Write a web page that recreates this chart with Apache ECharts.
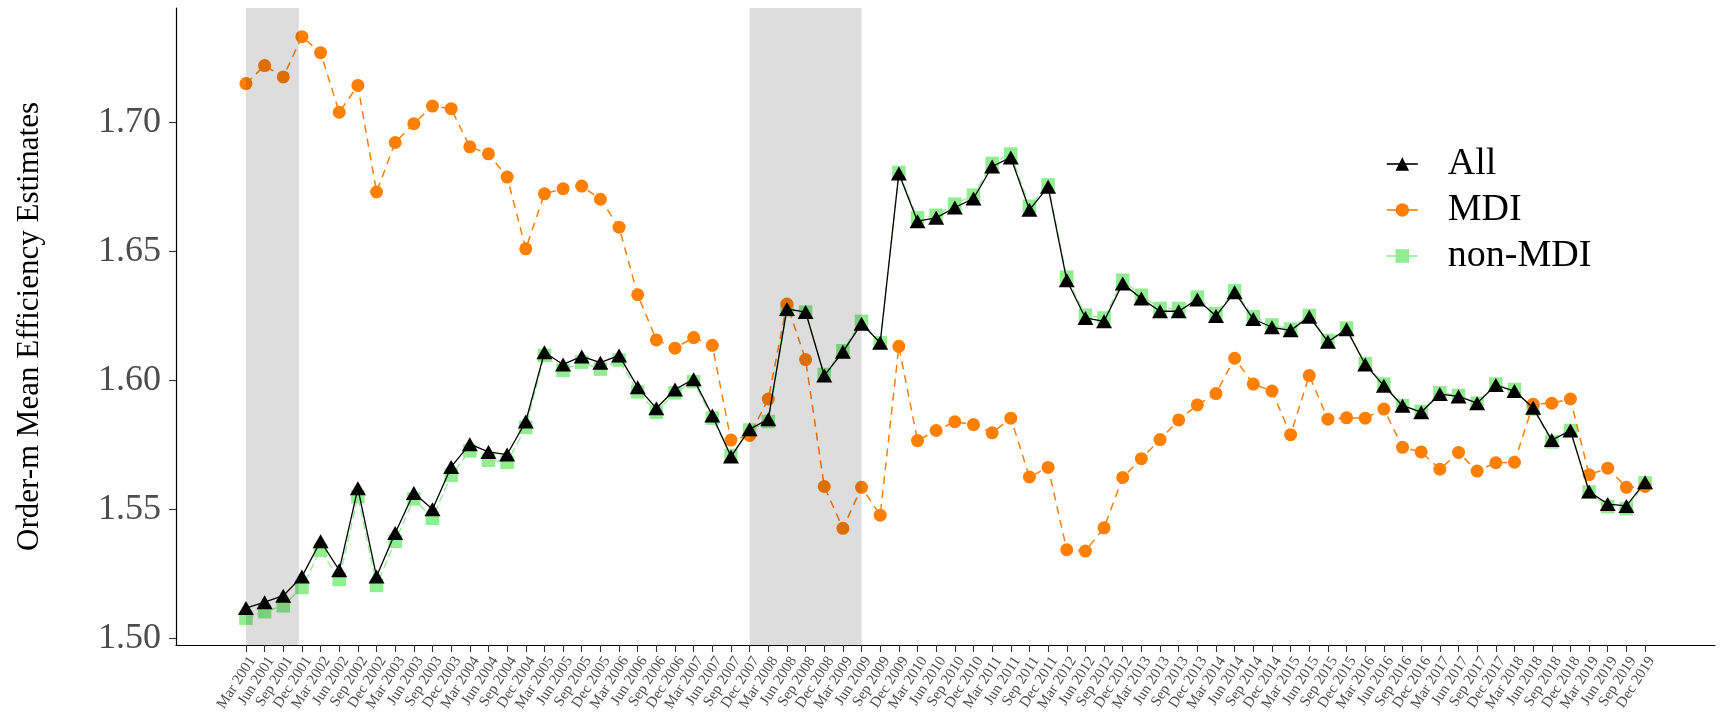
<!DOCTYPE html>
<html>
<head>
<meta charset="utf-8">
<title>Order-m Mean Efficiency Estimates</title>
<script src="https://cdn.jsdelivr.net/npm/echarts@6/dist/echarts.min.js"></script>
<style>
  html, body { margin: 0; padding: 0; background: #fff; }
  #chart { width: 1724px; height: 716px; }
</style>
</head>
<body>
<div id="chart"></div>
<script>
// Quarterly tick labels, Mar 2001 – Dec 2019
const quarterLabels = [
  'Mar 2001','Jun 2001','Sep 2001','Dec 2001','Mar 2002','Jun 2002','Sep 2002','Dec 2002',
  'Mar 2003','Jun 2003','Sep 2003','Dec 2003','Mar 2004','Jun 2004','Sep 2004','Dec 2004',
  'Mar 2005','Jun 2005','Sep 2005','Dec 2005','Mar 2006','Jun 2006','Sep 2006','Dec 2006',
  'Mar 2007','Jun 2007','Sep 2007','Dec 2007','Mar 2008','Jun 2008','Sep 2008','Dec 2008',
  'Mar 2009','Jun 2009','Sep 2009','Dec 2009','Mar 2010','Jun 2010','Sep 2010','Dec 2010',
  'Mar 2011','Jun 2011','Sep 2011','Dec 2011','Mar 2012','Jun 2012','Sep 2012','Dec 2012',
  'Mar 2013','Jun 2013','Sep 2013','Dec 2013','Mar 2014','Jun 2014','Sep 2014','Dec 2014',
  'Mar 2015','Jun 2015','Sep 2015','Dec 2015','Mar 2016','Jun 2016','Sep 2016','Dec 2016',
  'Mar 2017','Jun 2017','Sep 2017','Dec 2017','Mar 2018','Jun 2018','Sep 2018','Dec 2018',
  'Mar 2019','Jun 2019','Sep 2019','Dec 2019'
];

// Order-m mean efficiency, all institutions
const allValues = [
  1.5118, 1.5141, 1.5166, 1.5240, 1.5377, 1.5265, 1.5582, 1.5240,
  1.5409, 1.5564, 1.5501, 1.5665, 1.5753, 1.5723, 1.5713, 1.5841,
  1.6109, 1.6062, 1.6093, 1.6069, 1.6097, 1.5974, 1.5892, 1.5965,
  1.6005, 1.5864, 1.5705, 1.5811, 1.5850, 1.6277, 1.6265, 1.6019,
  1.6111, 1.6220, 1.6146, 1.6802, 1.6617, 1.6630, 1.6670, 1.6705,
  1.6829, 1.6864, 1.6661, 1.6750, 1.6388, 1.6242, 1.6229, 1.6376,
  1.6317, 1.6268, 1.6268, 1.6314, 1.6250, 1.6342, 1.6238, 1.6206,
  1.6194, 1.6247, 1.6150, 1.6198, 1.6062, 1.5979, 1.5902, 1.5877,
  1.5947, 1.5938, 1.5912, 1.5982, 1.5959, 1.5894, 1.5769, 1.5806,
  1.5570, 1.5521, 1.5514, 1.5606
];

// Minority depository institutions
const mdiValues = [
  1.7150, 1.7220, 1.7176, 1.7332, 1.7270, 1.7039, 1.7143, 1.6730,
  1.6922, 1.6995, 1.7063, 1.7053, 1.6905, 1.6878, 1.6788, 1.6510,
  1.6723, 1.6743, 1.6753, 1.6702, 1.6594, 1.6332, 1.6157, 1.6125,
  1.6166, 1.6136, 1.5769, 1.5787, 1.5928, 1.6296, 1.6081, 1.5589,
  1.5427, 1.5586, 1.5478, 1.6132, 1.5767, 1.5806, 1.5840, 1.5829,
  1.5797, 1.5854, 1.5626, 1.5663, 1.5344, 1.5339, 1.5429, 1.5624,
  1.5697, 1.5771, 1.5847, 1.5905, 1.5949, 1.6086, 1.5986, 1.5959,
  1.5790, 1.6019, 1.5850, 1.5855, 1.5854, 1.5889, 1.5741, 1.5723,
  1.5656, 1.5721, 1.5649, 1.5681, 1.5683, 1.5908, 1.5912, 1.5928,
  1.5635, 1.5660, 1.5586, 1.5589
];

// Non-minority institutions
const nonMdiValues = [
  1.5079, 1.5104, 1.5127, 1.5198, 1.5342, 1.5229, 1.5550, 1.5206,
  1.5377, 1.5541, 1.5466, 1.5633, 1.5727, 1.5691, 1.5683, 1.5818,
  1.6097, 1.6039, 1.6071, 1.6044, 1.6079, 1.5956, 1.5877, 1.5952,
  1.5995, 1.5854, 1.5709, 1.5808, 1.5841, 1.6273, 1.6265, 1.6023,
  1.6115, 1.6229, 1.6146, 1.6806, 1.6630, 1.6640, 1.6683, 1.6718,
  1.6841, 1.6877, 1.6675, 1.6758, 1.6400, 1.6253, 1.6242, 1.6388,
  1.6330, 1.6279, 1.6279, 1.6323, 1.6259, 1.6347, 1.6247, 1.6215,
  1.6199, 1.6252, 1.6155, 1.6203, 1.6065, 1.5986, 1.5903, 1.5880,
  1.5952, 1.5942, 1.5912, 1.5986, 1.5965, 1.5889, 1.5762, 1.5806,
  1.5568, 1.5511, 1.5503, 1.5603
];

// Recession periods, in quarter-index units (0 = Mar 2001)
const recessions = [[0, 2.83], [27, 33]];

// Y tick positions and labels
const yTicks = [1.50, 1.55, 1.60, 1.65, 1.70];
const yTickLabels = ['1.50', '1.55', '1.60', '1.65', '1.70'];

const serif = "'Liberation Serif', 'DejaVu Serif', serif";
const xTicks = quarterLabels.map((_, i) => i);
const toPoints = arr => arr.map((v, i) => [i, v]);

// x range with 5% padding on each side of the 75 quarter span
const xMin = -3.75, xMax = 78.75;
// rotated labels hang slightly right of their ticks
const labelShift = 0.35;

const chart = echarts.init(document.getElementById('chart'), null, { renderer: 'canvas' });

chart.setOption({
  animation: false,
  backgroundColor: '#ffffff',
  grid: { left: 176, right: 9, top: 8, bottom: 71, containLabel: false },
  legend: {
    orient: 'vertical',
    left: 1381,
    top: 140,
    itemWidth: 31,
    itemHeight: 17,
    itemGap: 8,
    data: ['All', 'MDI', 'non-MDI'],
    lineStyle: { type: 'solid', width: 1.6 },
    textStyle: { fontFamily: serif, fontSize: 38, color: '#000', padding: [0, 0, 0, 25] }
  },
  xAxis: [
    {
      type: 'value',
      min: xMin,
      max: xMax,
      splitLine: { show: false },
      axisLine: { onZero: false, lineStyle: { color: '#000', width: 1.2 } },
      axisTick: { show: true, length: 7, customValues: xTicks, lineStyle: { color: '#333', width: 1.1 } },
      axisLabel: { show: false }
    },
    {
      // label-only axis carrying the rotated quarter names
      type: 'value',
      position: 'bottom',
      offset: 0,
      min: xMin - labelShift,
      max: xMax - labelShift,
      splitLine: { show: false },
      axisLine: { show: false, onZero: false },
      axisTick: { show: false },
      axisLabel: {
        customValues: xTicks,
        formatter: v => quarterLabels[Math.round(v)] || '',
        rotate: 57,
        fontSize: 15,
        fontFamily: serif,
        color: '#4D4D4D',
        margin: 13
      }
    }
  ],
  yAxis: {
    type: 'value',
    min: 1.4975,
    max: 1.7443,
    splitLine: { show: false },
    axisLine: { show: true, onZero: false, lineStyle: { color: '#000', width: 1.2 } },
    axisTick: { show: true, length: 7, customValues: yTicks, lineStyle: { color: '#333', width: 1.1 } },
    axisLabel: {
      customValues: yTicks,
      formatter: v => yTickLabels[yTicks.findIndex(t => Math.abs(t - v) < 1e-9)] || '',
      fontSize: 36,
      fontFamily: serif,
      color: '#4D4D4D',
      margin: 15
    },
    name: 'Order-m Mean Efficiency Estimates',
    nameLocation: 'middle',
    nameGap: 131,
    nameTextStyle: { fontFamily: serif, fontSize: 31, color: '#000' }
  },
  series: [
    {
      name: 'non-MDI',
      type: 'line',
      data: toPoints(nonMdiValues),
      symbol: 'rect',
      symbolSize: 13.5,
      itemStyle: { color: '#90EE90' },
      lineStyle: { color: '#90EE90', width: 1.3, type: [8, 4] },
      z: 2
    },
    {
      name: 'MDI',
      type: 'line',
      data: toPoints(mdiValues),
      symbol: 'circle',
      symbolSize: 13,
      itemStyle: { color: '#FF7F00' },
      lineStyle: { color: '#FF7F00', width: 1.5, type: [8, 6] },
      z: 3
    },
    {
      name: 'All',
      type: 'line',
      data: toPoints(allValues),
      symbol: 'triangle',
      symbolSize: [16, 14],
      itemStyle: { color: '#000' },
      lineStyle: { color: '#000', width: 1.3 },
      z: 4
    },
    {
      // translucent recession bands drawn over the series
      name: 'recession',
      type: 'line',
      data: [],
      z: 10,
      markArea: {
        silent: true,
        z: 10,
        itemStyle: { color: 'rgba(0,0,0,0.135)' },
        data: recessions.map(r => [{ xAxis: r[0] }, { xAxis: r[1] }])
      }
    }
  ]
});
</script>
</body>
</html>
